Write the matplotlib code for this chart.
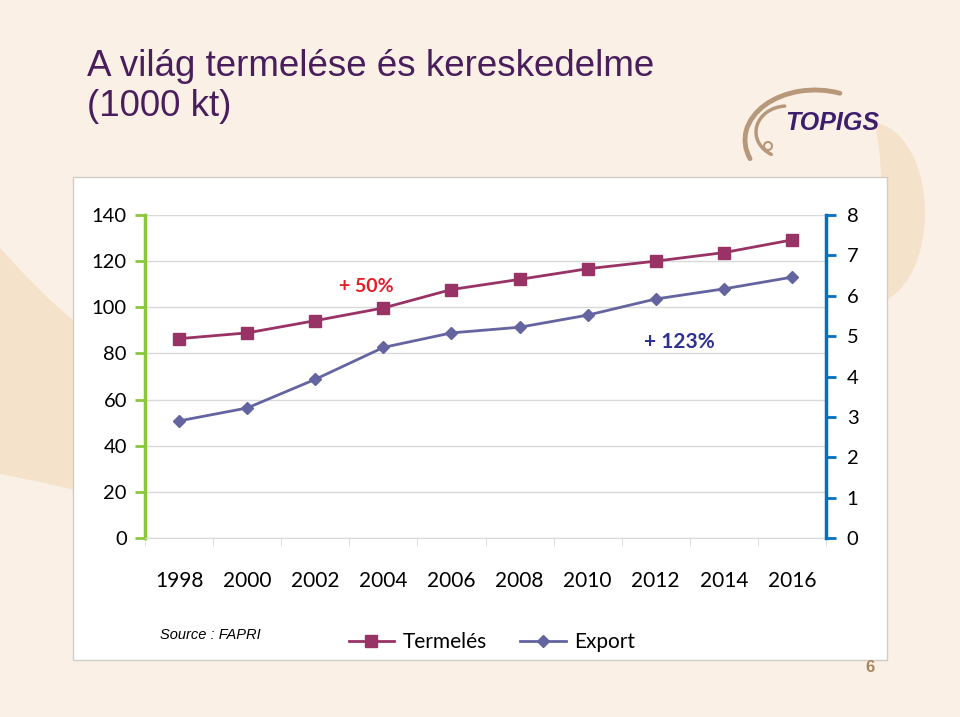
import matplotlib
matplotlib.use("Agg")
import matplotlib.pyplot as plt
from matplotlib.patches import Rectangle, Polygon, Arc, Circle
from matplotlib.lines import Line2D
import numpy as np

years = ["1998", "2000", "2002", "2004", "2006", "2008", "2010", "2012", "2014", "2016"]
termeles = [86.4, 88.9, 94.2, 99.7, 107.7, 112.1, 116.7, 120.0, 123.7, 129.2]
export = [2.90, 3.22, 3.93, 4.72, 5.08, 5.22, 5.52, 5.92, 6.17, 6.46]
left_ticks = [0, 20, 40, 60, 80, 100, 120, 140]
right_ticks = [0, 1, 2, 3, 4, 5, 6, 7, 8]

BG = "#FAF0E6"
DECO = "#F5E2CA"
C_T = "#993366"
C_E = "#6464A0"
GREEN = "#8CC63F"
BLUE = "#0070C0"
TITLE = "#4A1E5C"
TAN = "#B8987A"
FONT = "Lato"

W, H = 960, 717
fig = plt.figure(figsize=(W / 100, H / 100), dpi=100, facecolor=BG)

def fx(x): return x / W
def fy(y): return 1 - y / H

def sarc(cx, cy, w, h, a1, a2, **kw):
    # arc in screen angles (counterclockwise, up positive) on an inverted-y axes
    return Arc((cx, cy), w, h, theta1=-a2, theta2=-a1, **kw)

# decorative background shapes
bgax = fig.add_axes([0, 0, 1, 1], zorder=-10)
bgax.set_xlim(0, W); bgax.set_ylim(H, 0); bgax.axis("off")
# left band
bgax.add_patch(Polygon([(0, 248), (25, 275), (50, 300), (75, 322), (75, 490),
                        (40, 482), (0, 474)], closed=True, color=DECO, lw=0))
# right crescent
t = np.linspace(-np.pi / 2, np.pi / 2, 60)
outer = np.column_stack([872 + 53 * np.cos(t), 213 + 90 * np.sin(t)])
inner = np.column_stack([872 + 10 * np.cos(t[::-1]), 213 + 90 * np.sin(t[::-1])])
bgax.add_patch(Polygon(np.vstack([outer, inner]), closed=True, color=DECO, lw=0))
# logo swoosh
bgax.add_patch(sarc(815, 140, 140, 100, 62, 196, color=TAN, lw=3.5, capstyle="round"))
bgax.add_patch(sarc(787, 132, 62, 52, 95, 235, color=TAN, lw=2.5, capstyle="round"))
bgax.add_patch(Circle((768, 146), 4, fill=False, edgecolor=TAN, lw=1.5))

# white chart panel
fig.patches.append(Rectangle((fx(73), fy(660)), fx(887) - fx(73), fy(177) - fy(660),
                             transform=fig.transFigure, facecolor="white",
                             edgecolor="#D0CCC8", lw=1, zorder=-5))

ax = fig.add_axes([fx(145), fy(538), fx(826) - fx(145), fy(215) - fy(538)])
ax.set_facecolor("white")
x = np.arange(len(years))
ax.set_xlim(-0.5, len(years) - 0.5)
ax.set_ylim(0, 140)
ax.set_yticks(left_ticks)
ax.yaxis.grid(True, color="#D9D9D9", lw=1)
ax.set_axisbelow(True)
ax.set_xticks(x)
ax.set_xticklabels(years, fontsize=15, family=FONT)
ax.set_xticks(np.arange(-0.5, len(years)), minor=True)
ax.tick_params(axis="x", which="major", length=0, pad=24)
ax.tick_params(axis="x", which="minor", length=6, color="#D9D9D9", direction="out")
ax.tick_params(axis="y", which="major", length=7, width=2, color=GREEN, pad=6,
               labelsize=14.5)
for lab in ax.get_yticklabels():
    lab.set_family(FONT)
for s in ["top", "right"]:
    ax.spines[s].set_visible(False)
ax.spines["bottom"].set_color("#D9D9D9")
ax.spines["left"].set_color(GREEN)
ax.spines["left"].set_linewidth(2.5)

ax2 = ax.twinx()
ax2.set_ylim(0, 8)
ax2.set_yticks(right_ticks)
ax2.tick_params(axis="y", length=7, width=2, color=BLUE, pad=8, labelsize=14.5)
for lab in ax2.get_yticklabels():
    lab.set_family(FONT)
for s in ["top", "left", "bottom"]:
    ax2.spines[s].set_visible(False)
ax2.spines["right"].set_color(BLUE)
ax2.spines["right"].set_linewidth(2.5)

ax.plot(x, termeles, color=C_T, lw=2, marker="s", ms=8, zorder=5)
ax2.plot(x, export, color=C_E, lw=2, marker="D", ms=6.5, zorder=5)

ax.text(2.75, 109, "+ 50%", color="#E41E26", fontsize=14, fontweight="bold",
        family=FONT, ha="center", va="center")
ax2.text(7.35, 4.86, "+ 123%", color="#2E3192", fontsize=15, fontweight="bold",
         family=FONT, ha="center", va="center")

# title
fig.text(fx(87), fy(67), "A világ termelése és kereskedelme", fontsize=26.5,
         color=TITLE, family="Liberation Sans", va="center", ha="left")
fig.text(fx(87), fy(107), "(1000 kt)", fontsize=26.5,
         color=TITLE, family="Liberation Sans", va="center", ha="left")

# logo text
fig.text(fx(832), fy(123), "TOPIGS", fontsize=18, color="#3D1E6D",
         family="Liberation Sans", fontweight="bold", style="italic",
         ha="center", va="center")

# source and legend
fig.text(fx(160), fy(635), "Source : FAPRI", fontsize=10.5, style="italic",
         family="Liberation Sans", ha="left", va="center")
handles = [Line2D([], [], color=C_T, lw=2, marker="s", ms=8),
           Line2D([], [], color=C_E, lw=2, marker="D", ms=6.5)]
leg = fig.legend(handles, ["Termelés", "Export"], loc="center",
                 bbox_to_anchor=(fx(492), fy(642)), ncol=2, frameon=False,
                 prop={"family": FONT, "size": 15}, handlelength=2.2,
                 columnspacing=1.6, handletextpad=0.4)

fig.text(fx(870), fy(668), "6", fontsize=12, color="#A8875F", fontweight="bold",
         family="Liberation Sans", ha="center", va="center")

fig.savefig("out.png", dpi=100, facecolor=BG)
